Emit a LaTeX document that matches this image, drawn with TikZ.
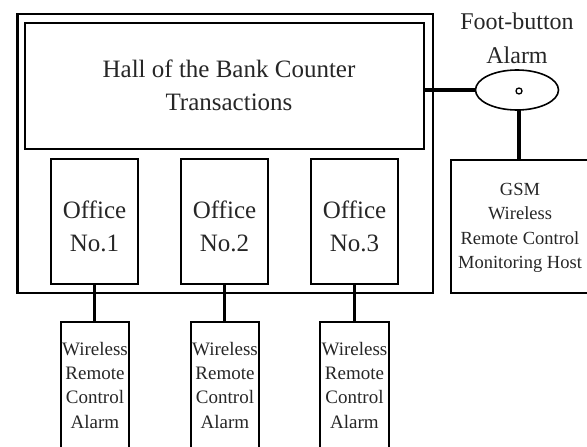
\documentclass[tikz,border=0pt]{standalone}
\usepackage{fontspec}
\setmainfont{Liberation Serif}
\usetikzlibrary{shapes.geometric}
\begin{document}
\begin{tikzpicture}[x=1pt,y=-1pt,
  box/.style={draw=black, rectangle, inner sep=0pt, outer sep=0pt, anchor=north west},
  txt/.style={align=center, inner sep=0pt, anchor=north, text=black!85},
  bigtxt/.style={txt, font=\fontsize{25}{33}\selectfont},
  midtxt/.style={txt, font=\fontsize{24}{34}\selectfont},
  smalltxt/.style={txt, font=\fontsize{19}{24.3}\selectfont},
  gsmtxt/.style={txt, font=\fontsize{18.5}{24.5}\selectfont},
  link/.style={draw=black, line width=2.5pt}]
\useasboundingbox (0,0) rectangle (587,447);
% frames
\node[box, line width=2.8pt, minimum width=415.5pt, minimum height=279pt] (outer) at (17.5,14) {};
\node[box, line width=2pt, minimum width=399pt, minimum height=126pt] (hall) at (25,23) {};
\node[box, line width=2.2pt, minimum width=87pt, minimum height=125pt] (off1) at (51,159) {};
\node[box, line width=1.6pt, minimum width=87pt, minimum height=125pt] (off2) at (181,159) {};
\node[box, line width=2.6pt, minimum width=87pt, minimum height=125pt] (off3) at (311,159) {};
\node[box, line width=2.5pt, minimum width=68pt, minimum height=140pt] (wl1) at (61,322) {};
\node[box, line width=2.5pt, minimum width=68pt, minimum height=140pt] (wl2) at (191,322) {};
\node[box, line width=2.5pt, minimum width=69pt, minimum height=140pt] (wl3) at (320,322) {};
\node[box, line width=1.6pt, minimum width=139pt, minimum height=133pt] (gsm) at (451,160) {};
\node[draw=black, ellipse, line width=1.6pt, inner sep=0pt, outer sep=0pt,
      minimum width=83pt, minimum height=40pt] (ell) at (517,90) {};
\node[draw=black, circle, line width=1.3pt, inner sep=0pt, minimum size=6pt] (dot) at (519,91) {};
% texts
\node[bigtxt] (halltxt) at (229,60) {Hall of the Bank Counter\\Transactions};
\node[bigtxt] (o1txt) at (94.5,201) {Office\\No.1};
\node[bigtxt] (o2txt) at (224.5,201) {Office\\No.2};
\node[bigtxt] (o3txt) at (354.5,201) {Office\\No.3};
\node[smalltxt] (w1txt) at (95,342) {Wireless\\Remote\\Control\\Alarm};
\node[smalltxt] (w2txt) at (225,342) {Wireless\\Remote\\Control\\Alarm};
\node[smalltxt] (w3txt) at (354.5,342) {Wireless\\Remote\\Control\\Alarm};
\node[gsmtxt] (gsmlabel) at (520,183) {GSM\\Wireless\\Remote Control\\Monitoring Host};
\node[midtxt] (foottxt) at (517,12.5) {Foot-button\\Alarm};
% connectors
\draw[link, line width=3.5pt] (ell.west) -- (ell.west -| hall.east);
\draw[link, line width=3.2pt] ([xshift=2pt]ell.south) -- ([xshift=2pt]ell.south |- gsm.north);
\draw[link] (off1.south) -- (off1.south |- wl1.north);
\draw[link, line width=3.5pt] (off2.south) -- (off2.south |- wl2.north);
\draw[link] (off3.south) -- (off3.south |- wl3.north);
\end{tikzpicture}
\end{document}
